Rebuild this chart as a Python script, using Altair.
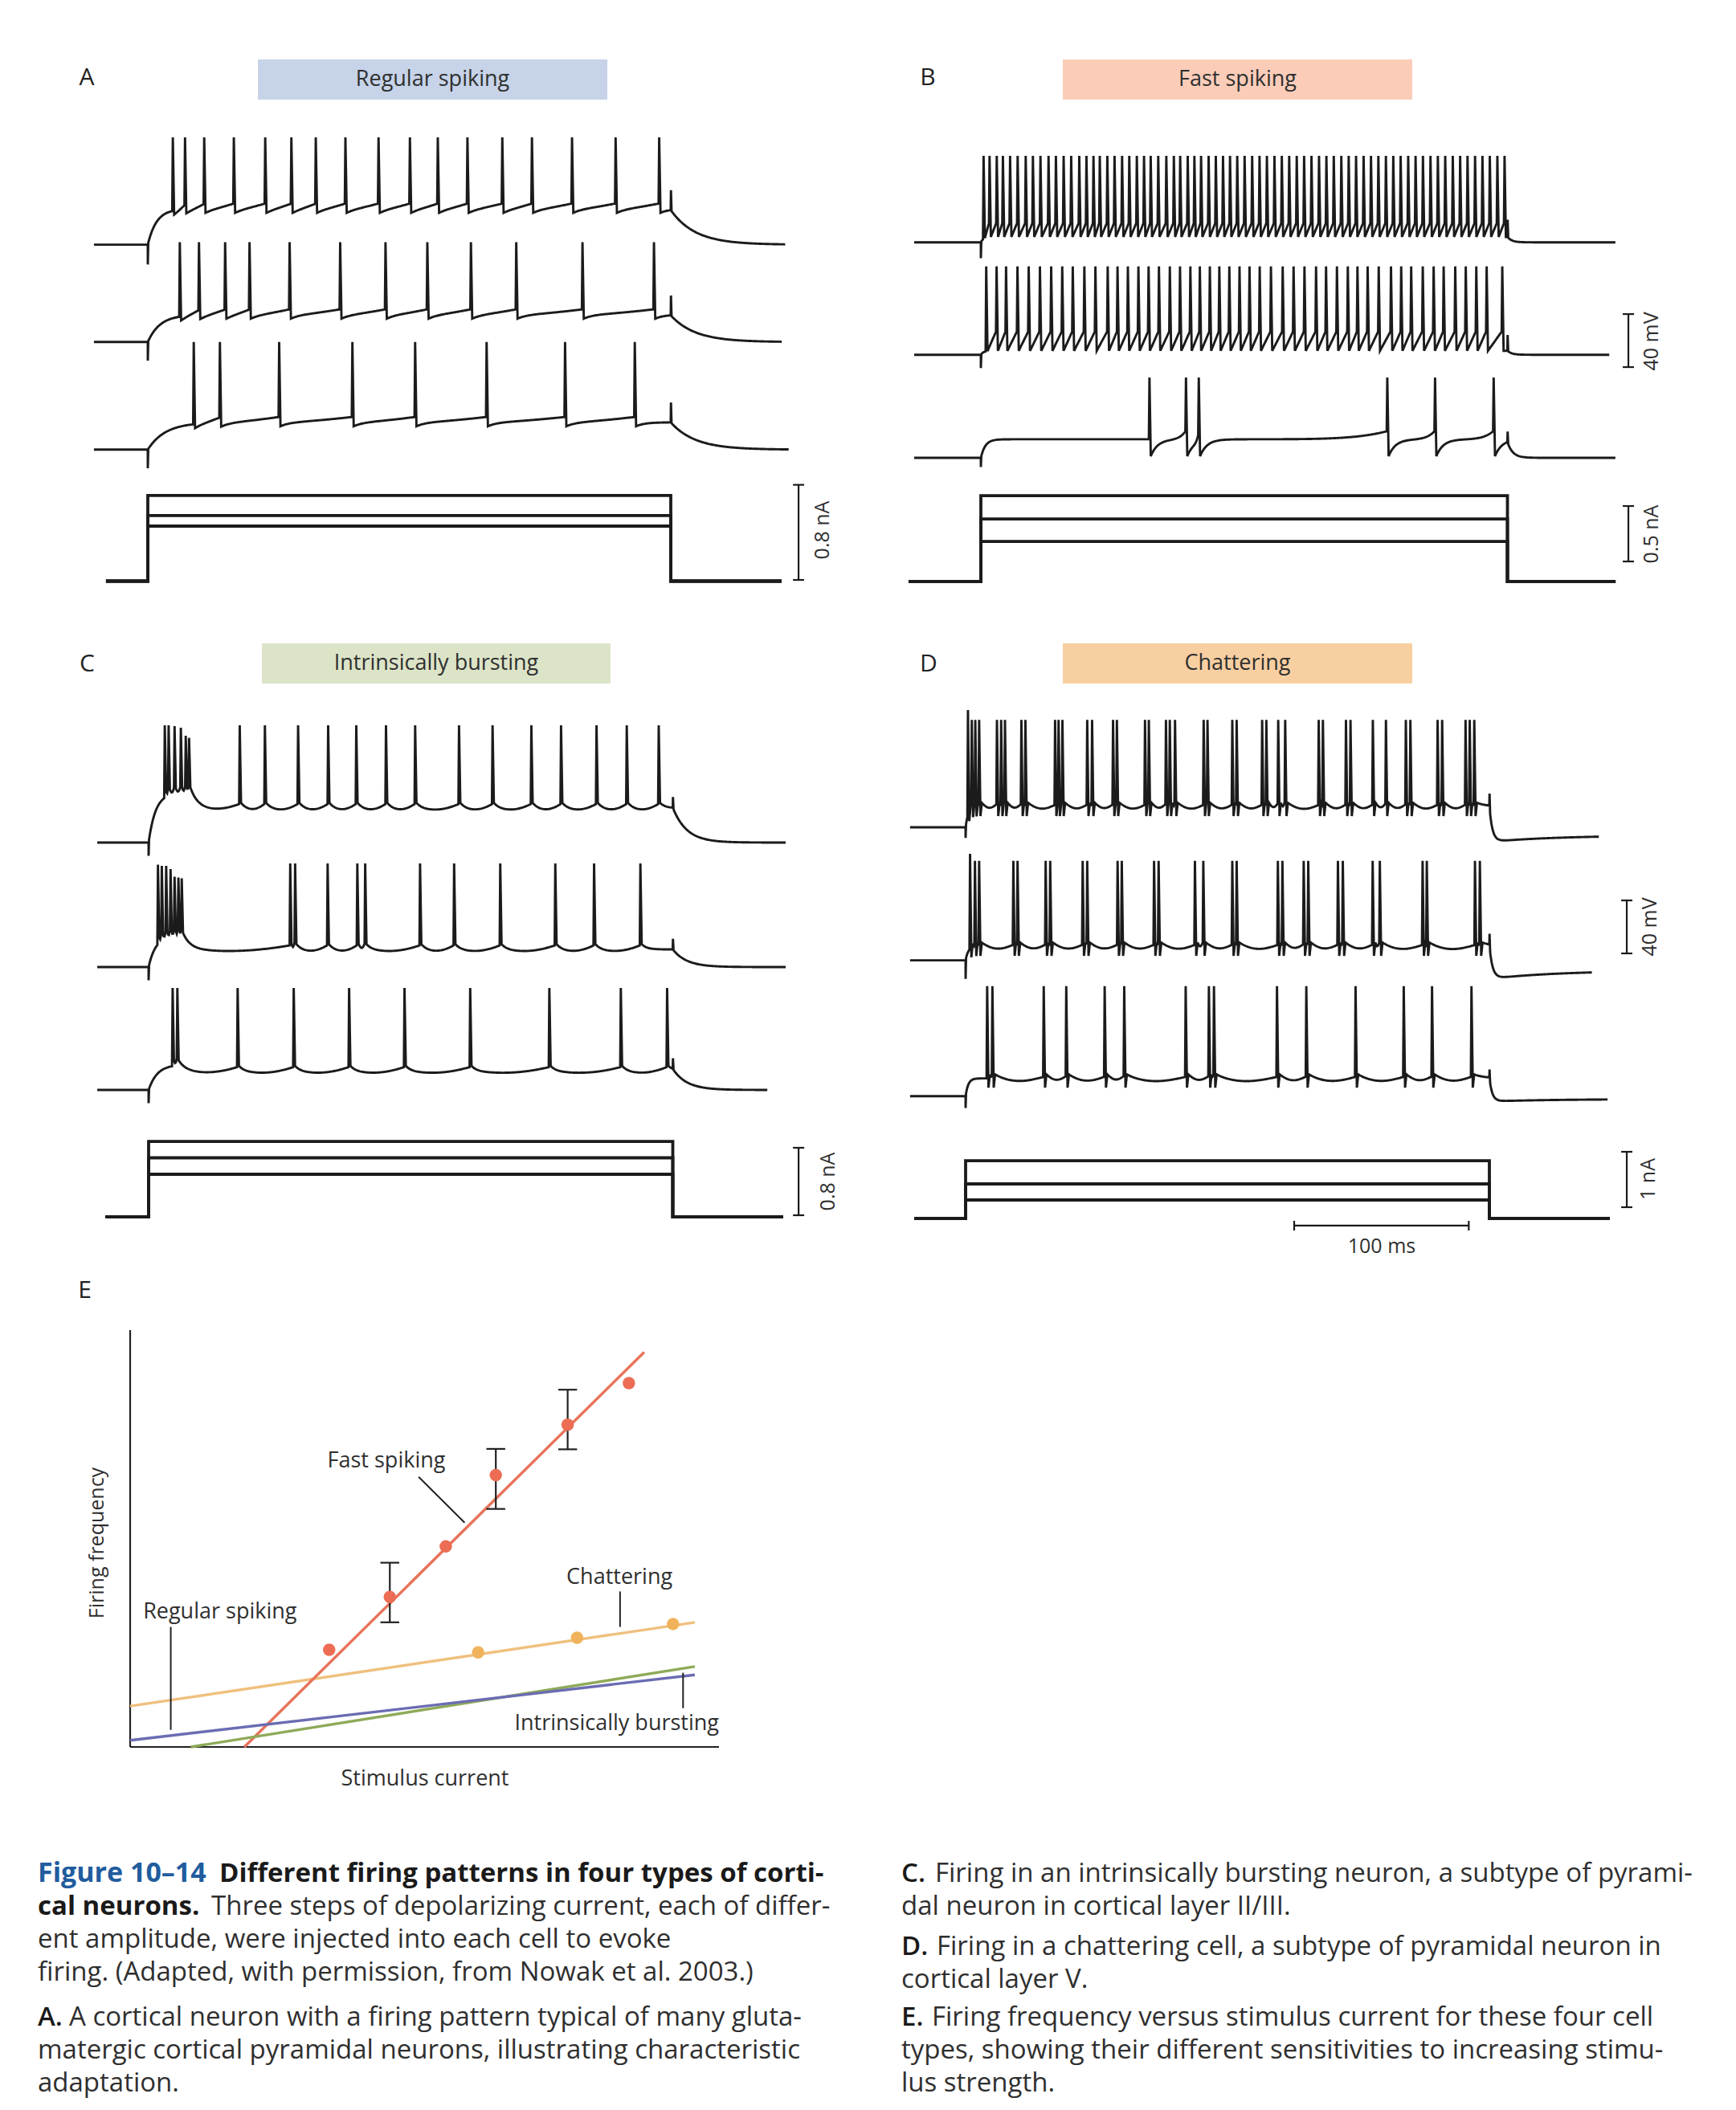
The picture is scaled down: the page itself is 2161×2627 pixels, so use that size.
import numpy as np
import pandas as pd
import altair as alt

alt.data_transformers.disable_max_rows()

W, H = 2145, 2611          # drawing area; page is 2161 x 2627 with an 8 px body margin
M = 8
FONT = "Open Sans"
INK = "#1b1b1b"
TXT = "#2f2f2f"
K = 1.65                   # display pixels per mV (the 40 mV bars are ~66 px)

# ------------------------------------------------------------------
# Spike times (ms after current onset)
# ------------------------------------------------------------------
A1 = [14, 21, 32, 49, 67, 82, 96, 113, 132, 150, 166, 183, 203, 220, 243, 268, 293]
A2 = [18, 29, 44, 58, 81, 110, 136, 160, 185, 211, 249, 290]
A3 = [26, 41, 75, 117, 153, 194, 239, 279]

B1 = [1.2, 4.6, 8.7, 12.2, 16.3, 20.6, 25.2, 29.3, 33.6, 38.2, 42.4, 46.8, 51.1, 55.7,
      59.8, 63.8, 67.4, 71.7, 75.8, 80.1, 84.2, 88.5, 92.6, 96.4, 100.7, 105.3, 109.6,
      113.2, 117.5, 121.3, 125.1, 129.4, 133.5, 137.6, 141.6, 145.7, 149.9, 154.2, 158.4,
      162.6, 166.9, 171.1, 175.3, 179.6, 183.8, 188.0, 192.3, 196.5, 200.7, 205.0, 209.2,
      213.4, 217.7, 221.9, 226.1, 230.4, 234.6, 238.8, 243.1, 247.3, 251.5, 255.8, 260.0,
      264.2, 268.5, 272.7, 276.9, 281.2, 285.4, 289.6, 293.9, 298.0]
B2 = [2.7, 8.6, 14.0, 20.5, 26.9, 33.3, 39.7, 46.0, 52.0, 58.6, 64.9, 71.9, 77.5, 83.4,
      89.4, 95.2, 101.1, 107.3, 113.1, 119.0, 124.4, 130.1, 135.5, 141.2, 147.0, 152.7,
      158.5, 164.9, 171.6, 177.8, 184.0, 190.6, 196.3, 202.5, 208.7, 214.2, 220.0, 226.3,
      233.3, 239.1, 244.8, 251.4, 257.6, 263.3, 269.9, 275.9, 281.9, 287.8, 296.7]
B3 = [95.7, 116.5, 123.8, 231.2, 258.4, 291.8]

C1 = [8.9, 11.1, 14.5, 18.1, 20.9, 22.8, 51.8, 66.2, 85.2, 102.4, 118.5, 135.5, 152.2,
      177.3, 196.5, 218.7, 235.7, 256.0, 273.3, 291.6]
C2 = [5.0, 7.2, 9.7, 12.2, 14.5, 16.7, 18.6, 80.7, 83.5, 102.1, 119.1, 123.6, 155.0,
      174.5, 200.9, 232.4, 254.6, 281.1]
C3 = [13.4, 16.1, 50.6, 82.7, 114.4, 146.1, 183.7, 229.0, 269.9, 296.4]
C1_BURST_PEAKS = [18.5, 18.5, 17.9, 16.7, 10.6, 9.0]
C2_BURST_PEAKS = [7.3, 6.4, 6.4, 3.9, -1.9, -2.5, -3.1]

D1 = [1.0, 3.2, 5.2, 7.4, 17.6, 20.0, 22.2, 31.6, 33.9, 50.9, 52.9, 55.1, 69.3, 72.1,
      84.1, 86.3, 102.4, 104.6, 114.4, 116.6, 119.6, 136.0, 138.2, 152.4, 154.9, 169.5,
      171.9, 178.7, 182.7, 201.9, 204.3, 217.5, 220.1, 232.9, 240.4, 251.8, 254.4, 270.0,
      272.6, 286.0, 288.4, 291.0]
D2 = [2.2, 5.0, 7.4, 27.0, 29.4, 45.5, 48.1, 66.7, 69.3, 86.7, 89.1, 107.6, 110.2,
      131.0, 135.8, 152.4, 154.9, 178.5, 181.1, 193.3, 195.9, 212.9, 215.7, 232.8, 236.9,
      261.4, 263.8, 291.4, 294.2]
D3 = [12.0, 15.0, 44.4, 57.3, 79.3, 90.5, 125.7, 139.0, 141.9, 178.0, 194.8, 223.0,
      250.6, 266.8, 289.4]

# current step amplitudes (nA), three steps per cell
A_I = [0.463, 0.551, 0.720]
B_I = [0.362, 0.565, 0.775]
C_I = [0.505, 0.700, 0.895]
D_I = [0.333, 0.623, 1.043]

# Panel E (arbitrary units 0-100 on both axes)
FS_X = [33.8, 44.1, 53.6, 62.1, 74.3, 84.7]
FS_Y = [23.3, 36.0, 48.1, 65.2, 77.3, 87.3]
FS_ERR_X = [44.1, 62.1, 74.3]
FS_ERR_LO = [29.9, 57.1, 71.4]
FS_ERR_HI = [44.2, 71.5, 85.7]
CH_X = [59.1, 75.9, 92.2]
CH_Y = [22.7, 26.2, 29.5]
FIT_NAMES = ["Regular spiking", "Intrinsically bursting", "Chattering", "Fast spiking"]
FIT_X0 = [0.0, 10.3, 0.0, 19.4]
FIT_Y0 = [1.6, 0.0, 9.8, 0.0]
FIT_X1 = [95.9, 95.9, 95.9, 87.3]
FIT_Y1 = [17.3, 19.3, 29.9, 94.7]
FIT_COLORS = ["#6b6cb3", "#8eaa58", "#efc07e", "#e8735a"]
LABEL_TEXT = ["Fast spiking", "Chattering", "Regular spiking", "Intrinsically bursting"]
LABEL_X = [33.5, 83.1, 2.2, 100.0]
LABEL_Y = [68.6, 40.6, 32.4, 5.6]
LABEL_ALIGN = ["left", "center", "left", "right"]
LEAD_X0 = [49.0, 83.2, 6.9, 93.9]
LEAD_Y0 = [64.8, 37.3, 28.8, 17.8]
LEAD_X1 = [56.8, 83.2, 6.9, 93.9]
LEAD_Y1 = [53.8, 28.8, 4.1, 9.3]

# ------------------------------------------------------------------
# waveform rendering of a spike train
# ------------------------------------------------------------------
TR, TF = 0.35, 1.1


def trace_df(P, t0, t1):
    sp = np.array(P["sp"], float)
    n = len(sp)
    under = P.get("under", 0.0)
    win = TF + (P.get("tu", 0.8) if under else 0.0)
    bpk = P.get("bpk", [])
    rest, plat = -70.0, P["plat"]

    def env(t):
        if t < 0:
            return rest
        ton = P["tau_on"]
        v = rest + (plat - rest) * (1 - np.exp(-t / ton))
        hm = P.get("hump", 0.0)
        if hm:
            he = P["hump_end"]
            if t <= he:
                v += hm * (1 - np.exp(-t / ton))
            else:
                v += hm * (1 - np.exp(-he / ton)) * np.exp(-(t - he) / P["tau_h"])
        return v

    def isi(t):
        i = np.searchsorted(sp, t - win, side="right") - 1
        if i < 0:
            return 0.0
        te = sp[i] + win
        dt = max(t - te, 0.0)
        val = P["post"] * np.exp(-dt / P["tau_r"])
        if i + 1 < n:
            u = min(max(dt / (sp[i + 1] - te), 0.0), 1.0)
            val += P["pre"] * u ** P["p"] - P.get("sag", 0.0) * np.sin(np.pi * u)
        return val

    def vsub(t):
        return env(t) + isi(t)

    v_end = vsub(300.0)

    def voff(t):
        dt = t - 300.0
        v = rest + (v_end - rest) * np.exp(-dt / P["tau_off"])
        ou = P.get("off_under", 0.0)
        if ou:
            v -= ou * (1 - np.exp(-dt / 2.0)) * (0.55 + 0.45 * np.exp(-dt / 40.0))
        return v

    pts = []
    for t in np.arange(t0, t1 + 1e-9, 0.5):
        if t < 0:
            pts.append((t, rest))
        elif t <= 300:
            if t < 0.3 or t > 299.9:
                continue
            if n and np.any((t >= sp - 0.05) & (t <= sp + win + 0.05)):
                continue
            pts.append((t, vsub(t)))
        elif t > 300.5:
            pts.append((t, voff(t)))
    pts += [(-0.02, rest), (0.0, rest + P["art"]), (0.25, env(0.25))]
    pts += [(299.95, v_end), (300.1, v_end + P["blip"]), (300.45, voff(300.45))]
    for j, s in enumerate(sp):
        pk = bpk[j] if j < len(bpk) else P["peak"]
        pts.append((s, vsub(s)))
        pts.append((s + TR, pk))
        if under:
            pts.append((s + TF, env(s + TF) + P["post"] + under))
            pts.append((s + win, env(s + win) + P["post"]))
        else:
            pts.append((s + TF, env(s + TF) + P["post"]))
    pts.sort(key=lambda r: r[0])
    df = pd.DataFrame(pts, columns=["t", "v"])
    df["i"] = np.arange(len(df))
    return df


def tscale(on_px, off_px):
    return alt.Scale(domain=[0, 300], range=[on_px - M, off_px - M], nice=False, zero=False)


def vscale(base_px):
    return alt.Scale(domain=[-70, 0], range=[base_px - M, base_px - M - 70 * K],
                     nice=False, zero=False)


def iscale(base_px, px_per_na):
    return alt.Scale(domain=[0, 1], range=[base_px - M, base_px - M - px_per_na],
                     nice=False, zero=False)


COMMON_A = dict(tau_off=14, blip=15, post=-3, tau_r=5, pre=4, p=1.5)
COMMON_C = dict(tau_off=8, blip=8, post=4, tau_r=3, pre=3, p=3, sag=1.5, art=-10)
COMMON_D = dict(under=-10, tu=0.8, tau_on=1.5, tau_off=1.5, post=3, tau_r=6, pre=1, p=2, sag=2.5)

PANELS = [
    dict(on=184, off=835, t0=-30.9, t1=366,
         traces=[dict(sp=A1, base=304.6, plat=-43.0, peak=11.0, tau_on=5, art=-15, t1=366, **COMMON_A),
                 dict(sp=A2, base=425.8, plat=-49.4, peak=5.3, tau_on=7, art=-14, t1=364, **COMMON_A),
                 dict(sp=A3, base=559.8, plat=-49.4, peak=11.2, tau_on=10, art=-14, t1=368, **COMMON_A)],
         I=A_I, ibase=723.5, ipx=148, it0=-24, it1=363.6, ibar=(373.3, 0.01, 0.81), vbar=None),
    dict(on=1221, off=1876.5, t0=-38, t1=361.6,
         traces=[dict(sp=B1, base=301.7, plat=-65.9, peak=-4.7, tau_on=1.5, tau_off=2.5, art=-12,
                      blip=13, post=0, tau_r=1, pre=10.3, p=1.0, t1=361.6),
                 dict(sp=B2, base=441.7, plat=-67.0, peak=-3.3, tau_on=1.5, tau_off=2.5, art=-10,
                      blip=12, post=0, tau_r=1, pre=14.4, p=1.0, t1=358),
                 dict(sp=B3, base=570.0, plat=-56.0, peak=-9.4, tau_on=2.5, tau_off=3, art=-7,
                      blip=8, post=-12.7, tau_r=4, pre=6, p=6, t1=361.6)],
         I=B_I, ibase=724, ipx=138, it0=-41.2, it1=361.6, ibar=(368.9, 0.181, 0.681),
         vbar=(1, 368.9, -79.3, -39.3)),
    dict(on=185, off=837.5, t0=-29.4, t1=364.6,
         traces=[dict(sp=C1, base=1049, plat=-44.0, peak=18.5, bpk=C1_BURST_PEAKS, tau_on=4,
                      hump=11.5, hump_end=24, tau_h=5, t1=364.6, **COMMON_C),
                 dict(sp=C2, base=1204, plat=-56.7, peak=8.2, bpk=C2_BURST_PEAKS, tau_on=4,
                      hump=10, hump_end=19, tau_h=5, t1=364.6, **COMMON_C),
                 dict(sp=C3, base=1357, plat=-55.8, peak=6.9, tau_on=5,
                      hump=5, hump_end=17, tau_h=6, t1=354.5, **COMMON_C)],
         I=C_I, ibase=1515, ipx=105, it0=-24.8, it1=363.2, ibar=(372.0, 0.019, 0.819), vbar=None),
    dict(on=1202, off=1854, t0=-31.8, t1=366,
         traces=[dict(sp=D1, base=1030, plat=-54.5, peak=11, bpk=[18.5], art=-8, blip=9,
                      off_under=11, t1=363, **COMMON_D),
                 dict(sp=D2, base=1195.6, plat=-59.6, peak=5, bpk=[10.4], art=-14, blip=8,
                      off_under=14, t1=359, **COMMON_D),
                 dict(sp=D3, base=1364.7, plat=-56.6, peak=13, art=-9, blip=6,
                      off_under=4, t1=367.7, **COMMON_D)],
         I=D_I, ibase=1517, ipx=69, it0=-29.4, it1=369, ibar=(378.7, 0.203, 1.203),
         vbar=(1, 378.7, -64.8, -24.8), timebar=(188.2, 288.2, -0.130)),
]

CAP = 3.2  # half-width of scale-bar end caps, ms

layers = []
for P in PANELS:
    xs = tscale(P["on"], P["off"])
    for k, T in enumerate(P["traces"]):
        ys = vscale(T["base"])
        df = trace_df(T, P["t0"], T["t1"])
        line = alt.Chart(df).mark_line(color=INK, strokeWidth=2.9).encode(
            x=alt.X("t:Q", scale=xs, axis=None),
            y=alt.Y("v:Q", scale=ys, axis=None),
            order="i:Q")
        if P["vbar"] is not None and P["vbar"][0] == k:
            _, bt, lo, hi = P["vbar"]
            bar = pd.DataFrame({"t": [bt], "lo": [lo], "hi": [hi]})
            caps = pd.DataFrame({"a": [bt - CAP, bt - CAP], "b": [bt + CAP, bt + CAP], "v": [lo, hi]})
            r1 = alt.Chart(bar).mark_rule(color=INK, strokeWidth=2.2).encode(
                x=alt.X("t:Q", scale=xs, axis=None), y=alt.Y("lo:Q", scale=ys, axis=None), y2="hi:Q")
            r2 = alt.Chart(caps).mark_rule(color=INK, strokeWidth=2.2).encode(
                x=alt.X("a:Q", scale=xs, axis=None), x2="b:Q", y=alt.Y("v:Q", scale=ys, axis=None))
            line = alt.layer(line, r1, r2)
        layers.append(line)

    # current steps
    ys = iscale(P["ibase"], P["ipx"])
    rows = []
    for lvl in P["I"]:
        for j, (t, a) in enumerate([(P["it0"], 0), (0, 0), (0, lvl), (300, lvl), (300, 0), (P["it1"], 0)]):
            rows.append((lvl, j, t, a))
    cdf = pd.DataFrame(rows, columns=["lvl", "j", "t", "a"])
    steps = alt.Chart(cdf).mark_line(color=INK, strokeWidth=3.8, strokeJoin="miter").encode(
        x=alt.X("t:Q", scale=xs, axis=None),
        y=alt.Y("a:Q", scale=ys, axis=None),
        detail="lvl:N", order="j:Q")
    bt, lo, hi = P["ibar"]
    bar = pd.DataFrame({"t": [bt], "lo": [lo], "hi": [hi]})
    caps = pd.DataFrame({"a": [bt - CAP, bt - CAP], "b": [bt + CAP, bt + CAP], "v": [lo, hi]})
    parts = [steps,
             alt.Chart(bar).mark_rule(color=INK, strokeWidth=2.2).encode(
                 x=alt.X("t:Q", scale=xs, axis=None), y=alt.Y("lo:Q", scale=ys, axis=None), y2="hi:Q"),
             alt.Chart(caps).mark_rule(color=INK, strokeWidth=2.2).encode(
                 x=alt.X("a:Q", scale=xs, axis=None), x2="b:Q", y=alt.Y("v:Q", scale=ys, axis=None))]
    if "timebar" in P:
        a, b, lv = P["timebar"]
        tb = pd.DataFrame({"a": [a], "b": [b], "v": [lv]})
        tk = pd.DataFrame({"t": [a, b], "lo": [lv - 0.087, lv - 0.087], "hi": [lv + 0.087, lv + 0.087]})
        parts.append(alt.Chart(tb).mark_rule(color=INK, strokeWidth=2.2).encode(
            x=alt.X("a:Q", scale=xs, axis=None), x2="b:Q", y=alt.Y("v:Q", scale=ys, axis=None)))
        parts.append(alt.Chart(tk).mark_rule(color=INK, strokeWidth=2.2).encode(
            x=alt.X("t:Q", scale=xs, axis=None), y=alt.Y("lo:Q", scale=ys, axis=None), y2="hi:Q"))
    layers.append(alt.layer(*parts))

# ------------------------------------------------------------------
# Panel E
# ------------------------------------------------------------------
xE = alt.Scale(domain=[0, 100], range=[162 - M, 895 - M], nice=False, zero=False)
yE = alt.Scale(domain=[0, 100], range=[2175 - M, 1656 - M], nice=False, zero=False)

axes_df = pd.DataFrame({"x": [0, 0], "y": [0, 0], "x2": [100, 0], "y2": [0, 100]})
fit_df = pd.DataFrame({"name": FIT_NAMES, "x": FIT_X0, "y": FIT_Y0, "x2": FIT_X1, "y2": FIT_Y1})
fs_df = pd.DataFrame({"x": FS_X, "y": FS_Y})
ch_df = pd.DataFrame({"x": CH_X, "y": CH_Y})
err_df = pd.DataFrame({"x": FS_ERR_X, "lo": FS_ERR_LO, "hi": FS_ERR_HI})
cap_df = pd.DataFrame({"a": [x - 1.6 for x in FS_ERR_X] * 2, "b": [x + 1.6 for x in FS_ERR_X] * 2,
                       "v": FS_ERR_LO + FS_ERR_HI})
lead_df = pd.DataFrame({"x": LEAD_X0, "y": LEAD_Y0, "x2": LEAD_X1, "y2": LEAD_Y1})
lab_df = pd.DataFrame({"s": LABEL_TEXT, "x": LABEL_X, "y": LABEL_Y, "al": LABEL_ALIGN})


def ex(f="x"):
    return alt.X(f + ":Q", scale=xE, axis=None)


def ey(f="y"):
    return alt.Y(f + ":Q", scale=yE, axis=None)


e_parts = [
    alt.Chart(axes_df).mark_rule(color="#222222", strokeWidth=2.2).encode(x=ex(), y=ey(), x2="x2:Q", y2="y2:Q"),
    alt.Chart(fit_df).mark_rule(strokeWidth=3.4).encode(
        x=ex(), y=ey(), x2="x2:Q", y2="y2:Q",
        color=alt.Color("name:N", scale=alt.Scale(domain=FIT_NAMES, range=FIT_COLORS), legend=None),
        order=alt.Order("name:N")),
    alt.Chart(lead_df).mark_rule(color="#222222", strokeWidth=2).encode(x=ex(), y=ey(), x2="x2:Q", y2="y2:Q"),
    alt.Chart(err_df).mark_rule(color="#222222", strokeWidth=2.2).encode(x=ex(), y=ey("lo"), y2="hi:Q"),
    alt.Chart(cap_df).mark_rule(color="#222222", strokeWidth=2.2).encode(x=ex("a"), x2="b:Q", y=ey("v")),
    alt.Chart(fs_df).mark_circle(size=240, opacity=1, color="#ec6d54").encode(x=ex(), y=ey()),
    alt.Chart(ch_df).mark_circle(size=240, opacity=1, color="#f0b35b").encode(x=ex(), y=ey()),
]
for al in ["left", "center", "right"]:
    e_parts.append(alt.Chart(lab_df[lab_df["al"] == al]).mark_text(
        font=FONT, fontSize=27, fontWeight=400, color=TXT, align=al, baseline="middle").encode(
        x=ex(), y=ey(), text="s:N"))
layers.append(alt.layer(*e_parts))

# ------------------------------------------------------------------
# page furniture: panel letters, title boxes, scale-bar labels, caption
# ------------------------------------------------------------------
PX = alt.Scale(domain=[0, W], range=[0, W], nice=False, zero=False)
PY = alt.Scale(domain=[0, H], range=[0, H], nice=False, zero=False)


def ptext(rows, **kw):
    df = pd.DataFrame(rows, columns=["x", "y", "s"])
    df["x"] = df["x"] - M
    df["y"] = df["y"] - M
    return alt.Chart(df).mark_text(font=FONT, **kw).encode(
        x=alt.X("x:Q", scale=PX, axis=None), y=alt.Y("y:Q", scale=PY, axis=None), text="s:N")


boxes = pd.DataFrame({
    "x": [321, 1323, 326, 1323], "x2": [756, 1758, 760, 1758],
    "y": [74, 74, 801, 801], "y2": [124, 124, 851, 851],
    "c": ["#c6d3e8", "#fbcdb9", "#dce4c8", "#f8cfa1"]})
for col in ["x", "x2", "y", "y2"]:
    boxes[col] = boxes[col] - M
layers.append(alt.Chart(boxes).mark_rect().encode(
    x=alt.X("x:Q", scale=PX, axis=None), x2="x2:Q",
    y=alt.Y("y:Q", scale=PY, axis=None), y2="y2:Q",
    color=alt.Color("c:N", scale=None)))

layers.append(ptext([(538.5, 99, "Regular spiking"), (1540.5, 99, "Fast spiking"),
                     (543, 826, "Intrinsically bursting"), (1540.5, 826, "Chattering")],
                    fontSize=27, fontWeight=400, color=TXT, align="center", baseline="middle"))
layers.append(ptext([(108, 97, "A"), (1155, 97, "B"), (108.5, 827, "C"), (1156, 827, "D"),
                     (105.6, 1607, "E")],
                    fontSize=30, fontWeight=400, color="#222222", align="center", baseline="middle"))
layers.append(ptext([(1024, 660, "0.8 nA"), (2056, 425, "40 mV"), (2056, 665, "0.5 nA"),
                     (1031, 1471, "0.8 nA"), (2054, 1154, "40 mV"), (2052, 1468, "1 nA"),
                     (121, 1921, "Firing frequency")],
                    fontSize=25, fontWeight=400, color=TXT, align="center", baseline="middle", angle=270))
layers.append(ptext([(1720, 1552, "100 ms")],
                    fontSize=25, fontWeight=400, color=TXT, align="center", baseline="middle"))
layers.append(ptext([(529, 2215, "Stimulus current")],
                    fontSize=27, fontWeight=400, color=TXT, align="center", baseline="middle"))

# caption
LX, RX = 47, 1122
LB = [2343, 2384, 2425, 2466, 2522, 2563, 2604]
RB = [2343, 2384, 2434, 2475, 2522, 2563, 2604]
cap_reg = [
    (263, LB[1], "Three steps of depolarizing current, each of differ-"),
    (LX, LB[2], "ent amplitude, were injected into each cell to evoke"),
    (LX, LB[3], "firing. (Adapted, with permission, from Nowak et al. 2003.)"),
    (86, LB[4], "A cortical neuron with a firing pattern typical of many gluta-"),
    (LX, LB[5], "matergic cortical pyramidal neurons, illustrating characteristic"),
    (LX, LB[6], "adaptation."),
    (1164, RB[0], "Firing in an intrinsically bursting neuron, a subtype of pyrami-"),
    (RX, RB[1], "dal neuron in cortical layer II/III."),
    (1166, RB[2], "Firing in a chattering cell, a subtype of pyramidal neuron in"),
    (RX, RB[3], "cortical layer V."),
    (1160, RB[4], "Firing frequency versus stimulus current for these four cell"),
    (RX, RB[5], "types, showing their different sensitivities to increasing stimu-"),
    (RX, RB[6], "lus strength."),
]
cap_title = [
    (273, LB[0], "Different firing patterns in four types of corti-"),
    (LX, LB[1], "cal neurons."),
]
cap_keys = [(LX, LB[4], "A."), (RX, RB[0], "C."), (RX, RB[2], "D."), (RX, RB[4], "E.")]
layers.append(ptext(cap_reg, fontSize=33, fontWeight=400, color=TXT, align="left", baseline="alphabetic"))
layers.append(ptext(cap_title, fontSize=33, fontWeight="bold", color="#1a1a1a", align="left", baseline="alphabetic"))
layers.append(ptext(cap_keys, fontSize=33, fontWeight=600, color="#1a1a1a", align="left", baseline="alphabetic"))
layers.append(ptext([(LX, LB[0], "Figure 10\u201314")], fontSize=34, fontWeight="bold", color="#215c9e",
                    align="left", baseline="alphabetic"))

chart = alt.layer(*layers).resolve_scale(x="independent", y="independent").properties(
    width=W, height=H, padding=0, autosize=alt.AutoSizeParams(type="none"),
    background="white").configure_view(stroke=None)

chart.save("out.html", embed_options={"renderer": "svg", "actions": False})
